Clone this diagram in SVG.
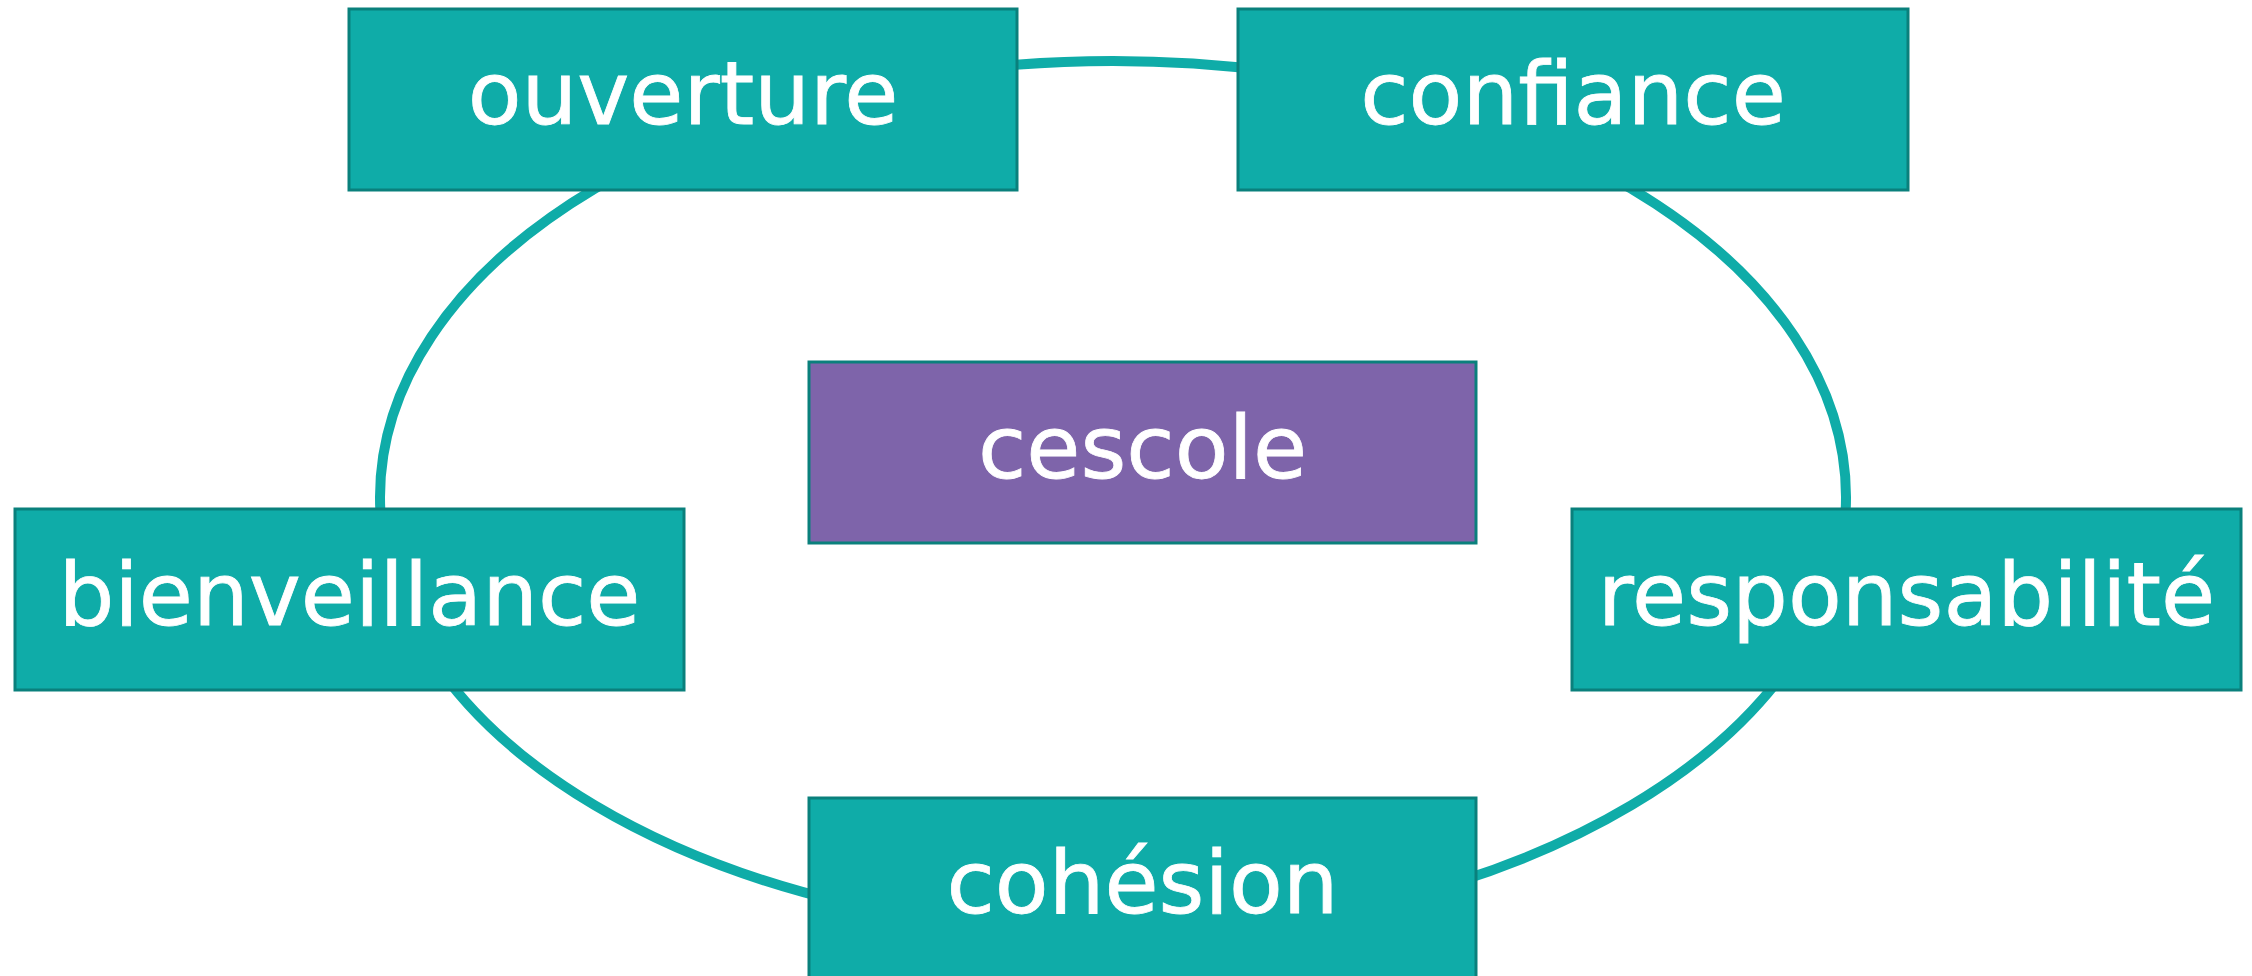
<svg xmlns="http://www.w3.org/2000/svg" width="2252" height="976" viewBox="0 0 2252 976">
<style>
.box{fill:#0FACA8;stroke:#0A807C;stroke-width:3}
.center{fill:#7E64AA;stroke:#0A807C;stroke-width:3}
.lbl{font-family:"DejaVu Sans",sans-serif;font-size:88px;fill:#FFFFFF;stroke:#FFFFFF;stroke-width:0.8;text-anchor:middle}
.ring{fill:none;stroke:#0FACA8;stroke-width:10}
</style>
<rect width="2252" height="976" fill="#FFFFFF"/>
<g id="connectors">
<ellipse class="ring" cx="1113" cy="497" rx="733" ry="436"/>
</g>
<g id="ouverture"><rect class="box" x="349" y="9" width="668" height="181"/><text class="lbl" x="683" y="124">ouverture</text></g>
<g id="confiance"><rect class="box" x="1238" y="9" width="670" height="181"/><text class="lbl" x="1573" y="124">confiance</text></g>
<g id="cescole"><rect class="center" x="809" y="362" width="667" height="181"/><text class="lbl" x="1142.5" y="478">cescole</text></g>
<g id="bienveillance"><rect class="box" x="15" y="509" width="669" height="181"/><text class="lbl" x="349.5" y="625">bienveillance</text></g>
<g id="responsabilite"><rect class="box" x="1572" y="509" width="669" height="181"/><text class="lbl" x="1906.5" y="625">responsabilité</text></g>
<g id="cohesion"><rect class="box" x="809" y="798" width="667" height="181"/><text class="lbl" x="1142.5" y="913">cohésion</text></g>
</svg>
